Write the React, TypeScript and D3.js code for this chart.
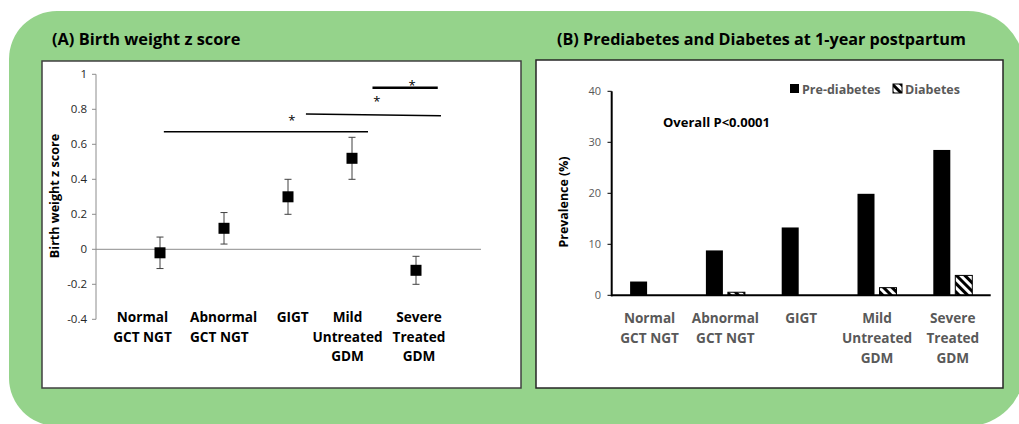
import React from "react";
import * as d3 from "d3";

// ---------- Data ----------
const categories = ["Normal|GCT NGT", "Abnormal|GCT NGT", "GIGT", "Mild|Untreated|GDM", "Severe|Treated|GDM"];

// Panel A: birth weight z score (mean, lower, upper)
const zMean = [-0.02, 0.12, 0.3, 0.52, -0.12];
const zLow = [-0.11, 0.03, 0.2, 0.4, -0.2];
const zHigh = [0.07, 0.21, 0.4, 0.64, -0.04];
const zTicks = [-0.4, -0.2, 0, 0.2, 0.4, 0.6, 0.8, 1];

// significance brackets (x in category-index units, y in z units)
const sigLines = [
  { x1: 0.06, x2: 3.25, y1: 0.672, y2: 0.672, w: 1.5 },
  { x1: 2.28, x2: 4.39, y1: 0.773, y2: 0.763, w: 1.5 },
  { x1: 3.32, x2: 4.34, y1: 0.923, y2: 0.923, w: 2.5 },
];
const sigStars = [
  { x: 2.06, y: 0.756 },
  { x: 3.39, y: 0.863 },
  { x: 3.94, y: 0.958 },
];

// Panel B: prevalence (%)
const series = ["Pre-diabetes", "Diabetes"];
const preDiabetes = [2.7, 8.8, 13.3, 19.9, 28.5];
const diabetes = [0, 0.6, 0, 1.5, 3.9];
const pTicks = [0, 10, 20, 30, 40];

const FONT = "'Open Sans', sans-serif";
const GREEN = "#95D38B";

// label placement tweaks for panel A (layout, px relative to point)
const labelShiftA = [-17.5, -34, 4.7, -4.5, 3];
const labelAnchorA = ["middle", "start", "middle", "middle", "middle"];

export default function App() {
  // Panel A scales
  const xA = d3.scalePoint<string>().domain(categories).range([96, 480]).padding(1);
  const yA = d3.scaleLinear().domain([-0.4, 1]).range([319.3, 74.3]);
  const xIdx = (i: number) => (xA(categories[0]) as number) + i * xA.step();

  // Panel B scales
  const xB = d3.scaleBand<string>().domain(categories).range([611.7, 990.7]);
  const xSub = d3.scaleBand<string>().domain(series).range([-19.5, 19.5]).paddingInner(0.227);
  const yB = d3.scaleLinear().domain([0, 40]).range([295.3, 91.3]);
  const bValues = [preDiabetes, diabetes];

  const bgPath = (() => {
    const x0 = 9, y0 = 11, x1 = 1024, y1 = 426, rl = 48, rr = 56;
    const p = d3.path();
    p.moveTo(x0 + rl, y0);
    p.lineTo(x1 - rr, y0);
    p.arcTo(x1, y0, x1, y0 + rr, rr);
    p.lineTo(x1, y1 - rr);
    p.arcTo(x1, y1, x1 - rr, y1, rr);
    p.lineTo(x0 + rl, y1);
    p.arcTo(x0, y1, x0, y1 - rl, rl);
    p.lineTo(x0, y0 + rl);
    p.arcTo(x0, y0, x0 + rl, y0, rl);
    p.closePath();
    return p.toString();
  })();

  const labelLines = (c: string) => c.split("|");

  return (
    <svg width={1019} height={424} style={{ position: "absolute", left: 0, top: 0, fontFamily: FONT }}>
      <defs>
        <pattern id="stripes" patternUnits="userSpaceOnUse" width={6} height={6} patternTransform="rotate(-45)">
          <rect width={6} height={6} fill="#fff" />
          <rect width={3} height={6} fill="#000" />
        </pattern>
      </defs>
      <rect width={1019} height={424} fill="#fff" />
      <path d={bgPath} fill={GREEN} />

      {/* Titles */}
      <text x={52} y={45} fontSize={16.4} fontWeight={700} fill="#000">(A) Birth weight z score</text>
      <text x={557} y={45} fontSize={16.2} fontWeight={700} fill="#000">(B) Prediabetes and Diabetes at 1-year postpartum</text>

      {/* Panel boxes */}
      <rect x={42} y={61} width={479} height={327} fill="#fff" stroke="#404040" strokeWidth={1.5} />
      <rect x={536} y={60} width={467} height={328} fill="#fff" stroke="#262626" strokeWidth={1.5} />

      {/* ---------- Panel A ---------- */}
      <line x1={96} x2={96} y1={yA(1)} y2={yA(-0.4)} stroke="#8c8c8c" strokeWidth={1} />
      {zTicks.map((t) => (
        <g key={t}>
          <line x1={92} x2={96} y1={yA(t)} y2={yA(t)} stroke="#8c8c8c" />
          <text x={87} y={yA(t) + 4} fontSize={11.5} textAnchor="end" fill="#262626">{String(Math.round(t * 10) / 10)}</text>
        </g>
      ))}
      <line x1={96} x2={481} y1={yA(0)} y2={yA(0)} stroke="#8c8c8c" strokeWidth={1} />
      <text transform={`translate(59,196) rotate(-90)`} fontSize={12.6} fontWeight={700} textAnchor="middle" fill="#000">Birth weight z score</text>

      {sigLines.map((s, i) => (
        <line key={i} x1={xIdx(s.x1)} x2={xIdx(s.x2)} y1={yA(s.y1)} y2={yA(s.y2)} stroke="#000" strokeWidth={s.w} />
      ))}
      {sigStars.map((s, i) => (
        <text key={i} x={xIdx(s.x)} y={yA(s.y) + 8} fontSize={13} textAnchor="middle" fill="#000">*</text>
      ))}

      {categories.map((c, i) => {
        const cx = xA(c) as number;
        return (
          <g key={c}>
            <line x1={cx} x2={cx} y1={yA(zLow[i])} y2={yA(zHigh[i])} stroke="#404040" strokeWidth={1} />
            <line x1={cx - 3.5} x2={cx + 3.5} y1={yA(zLow[i])} y2={yA(zLow[i])} stroke="#404040" />
            <line x1={cx - 3.5} x2={cx + 3.5} y1={yA(zHigh[i])} y2={yA(zHigh[i])} stroke="#404040" />
            <rect x={cx - 5.5} y={yA(zMean[i]) - 5.5} width={11} height={11} fill="#000" />
            {labelLines(c).map((l, k) => (
              <text key={k} x={cx + labelShiftA[i]} y={322 + k * 19.7} fontSize={13.6} fontWeight={700}
                textAnchor={labelAnchorA[i] as any} fill="#000">{l}</text>
            ))}
          </g>
        );
      })}

      {/* ---------- Panel B ---------- */}
      {pTicks.map((t) => (
        <g key={t}>
          <line x1={607.5} x2={611.7} y1={yB(t)} y2={yB(t)} stroke="#000" strokeWidth={1} />
          <text x={601} y={yB(t) + 4} fontSize={11} textAnchor="end" fill="#595959">{t}</text>
        </g>
      ))}
      <text transform={`translate(568,202) rotate(-90)`} fontSize={12.4} fontWeight={700} textAnchor="middle" fill="#000">Prevalence (%)</text>

      {categories.map((c, i) => {
        const cx = (xB(c) as number) + xB.bandwidth() / 2;
        return (
          <g key={c}>
            {series.map((s, si) => {
              const v = bValues[si][i];
              if (v <= 0) return null;
              const bx = cx + (xSub(s) as number);
              return (
                <rect key={s} x={bx} y={yB(v)} width={xSub.bandwidth()} height={yB(0) - yB(v)}
                  fill={si === 0 ? "#000" : "url(#stripes)"} stroke="#000" strokeWidth={si === 0 ? 0 : 1} />
              );
            })}
            {labelLines(c).map((l, k) => (
              <text key={k} x={cx} y={322.5 + k * 20.4} fontSize={13.6} fontWeight={700} textAnchor="middle" fill="#595959">{l}</text>
            ))}
          </g>
        );
      })}
      <line x1={611.7} x2={611.7} y1={yB(40)} y2={yB(0) + 1} stroke="#000" strokeWidth={2} />
      <line x1={611} x2={990.7} y1={yB(0)} y2={yB(0)} stroke="#000" strokeWidth={2} />

      <text x={663} y={127} fontSize={13} fontWeight={700} fill="#000">Overall P&lt;0.0001</text>

      {/* Legend */}
      {series.map((s, si) => {
        const lx = si === 0 ? 790 : 893;
        return (
          <g key={s}>
            <rect x={lx} y={84} width={9} height={9} fill={si === 0 ? "#000" : "url(#stripes)"} stroke="#000" strokeWidth={si === 0 ? 0 : 1} />
            <text x={lx + 12} y={93.5} fontSize={12.5} fontWeight={700} fill="#595959">{s}</text>
          </g>
        );
      })}
    </svg>
  );
}
